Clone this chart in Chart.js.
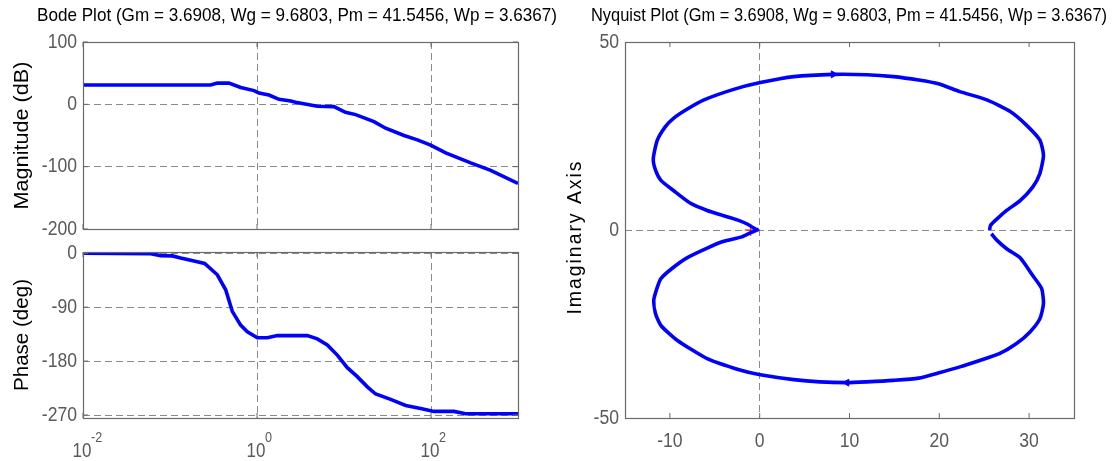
<!DOCTYPE html>
<html><head><meta charset="utf-8">
<script src="https://cdn.jsdelivr.net/npm/chart.js@4.4.1/dist/chart.umd.min.js"></script>
<style>
html,body{margin:0;padding:0;background:#fff;}
#wrap{position:relative;width:1112px;height:461px;overflow:hidden;background:#fff;}
canvas{position:absolute;}
</style></head><body>
<div id="wrap">
<canvas id="mag" width="560" height="240" style="left:0;top:0"></canvas>
<canvas id="phase" width="560" height="221" style="left:0;top:240px"></canvas>
<canvas id="nyq" width="552" height="461" style="left:560px;top:0"></canvas>
</div>
<script>
// ---------------- data ----------------
const bodeTitle = 'Bode Plot (Gm = 3.6908, Wg = 9.6803, Pm = 41.5456, Wp = 3.6367)';
const nyqTitle = 'Nyquist Plot (Gm = 3.6908, Wg = 9.6803, Pm = 41.5456, Wp = 3.6367)';
const magLabel = 'Magnitude (dB)';
const phaseLabel = 'Phase (deg)';
const nyqYLabel = 'Imaginary Axis';

// Bode magnitude (frequency in rad/s, magnitude in dB)
const magFreq = [0.01, 0.293, 0.35, 0.476, 0.649, 0.925, 1.054, 1.374, 1.79, 2.44, 2.78, 4.93, 7.67, 10.4, 13.6, 22.1, 30.1, 49.0, 69.7, 99.1, 147.6, 285.8, 485.3, 1000];
const magDb = [30.9, 30.9, 34, 34, 27, 22, 18, 15, 8, 5.3, 3.2, -3.2, -3.7, -12.8, -16.5, -27.7, -38.3, -50, -57, -65.4, -78, -94, -106, -127];

// Bode phase (frequency in rad/s, phase in deg)
const phaseFreq = [0.01, 0.06, 0.0782, 0.1064, 0.1327, 0.1888, 0.25, 0.35, 0.4365, 0.52, 0.6486, 0.7745, 1.009, 1.315, 1.714, 3.793, 4.932, 6.427, 8.375, 10.91, 14.22, 18.54, 23.12, 34.36, 51.17, 76.03, 108.1, 183.7, 250, 1000];
const phaseDeg = [0, -1, -4, -4.5, -8, -13, -17, -36, -61, -97, -120, -131, -141, -141, -137.5, -137.5, -143, -153, -170, -191, -206, -223, -235, -244, -254, -259, -264, -264, -268, -268];

// Nyquist branches
const nyqUpRe = [-0.3, -1.4, -2.5, -4.0, -5.85, -7.7, -9.6, -11.0, -11.6, -11.85, -11.4, -10.5, -9.6, -8.1, -6.2, -2.9, 0.07, 3.8, 8.2, 11.9, 14.9, 17.7, 19.9, 22.3, 25.3, 27.9, 29.7, 31.2, 31.6, 31.2, 30.4, 29.0, 27.5, 26.4, 25.7, 25.6];
const nyqUpIm = [0, 1.6, 2.7, 3.8, 5.2, 7.1, 10.5, 13.2, 15.9, 19.0, 23.9, 27.5, 29.7, 32.1, 34.6, 37.4, 39.2, 40.8, 41.4, 41.3, 40.8, 39.9, 38.9, 36.8, 34.6, 31.5, 27.9, 23.9, 19.9, 15.0, 11.4, 7.8, 5.2, 2.9, 1.2, 0];
const nyqLoRe = [25.8, 26.4, 27.5, 29.0, 30.4, 31.4, 31.6, 31.2, 30.1, 28.6, 26.7, 24.5, 22.3, 20.1, 17.7, 14.9, 11.9, 9.7, 6.7, 3.8, 0.07, -2.1, -5.85, -9.2, -11.0, -11.6, -11.8, -11.4, -11.0, -9.7, -8.1, -5.85, -4.0, -2.1, -1.0, -0.1];
const nyqLoIm = [-1.0, -2.7, -5.0, -7.4, -12.1, -15.6, -19.6, -23.6, -27.1, -30.2, -32.9, -34.7, -36.4, -37.9, -39.4, -40.0, -40.4, -40.6, -40.4, -39.8, -38.5, -37.3, -34.2, -29.3, -25.4, -22.3, -18.7, -15.2, -12.9, -10.1, -7.4, -4.8, -3.0, -1.9, -0.7, 0.2];
const arrowRe = [8.2, 9.7];
const arrowIm = [41.4, -40.6];
const arrowDir = [90, -90];
const critRe = [-1];
const critIm = [0];

// ticks
const freqTicks = [0.01, 1, 100];
const freqTickBase = ['10', '10', '10'];
const freqTickExp = ['-2', '0', '2'];
const magTicks = [100, 0, -100, -200];
const phaseTicks = [0, -90, -180, -270];
const nyqXTicks = [-10, 0, 10, 20, 30];
const nyqYTicks = [50, 0, -50];

// ---------------- helpers ----------------
const FONT = '"Liberation Sans", Arial, Helvetica, sans-serif';
const TICKC = '#5a5a5a', FRAMEC = '#6a6a6a', GRIDC = '#8a8a8a';
const LW = 3.6;
function txt(ctx, s, x, y, o) {
  ctx.save();
  ctx.font = (o.size || 20) + 'px ' + FONT;
  ctx.fillStyle = o.color || '#000';
  ctx.textBaseline = o.baseline || 'alphabetic';
  ctx.textAlign = o.align || 'left';
  if (o.ls) ctx.letterSpacing = o.ls + 'px';
  ctx.translate(x, y);
  if (o.rot) ctx.rotate(o.rot);
  let sx = o.sx || 1;
  if (o.width) sx = o.width / ctx.measureText(s).width;
  ctx.scale(sx, 1);
  ctx.fillText(s, 0, 0);
  ctx.restore();
}
function frame(ctx, a) {
  ctx.save();
  ctx.setLineDash([]);
  ctx.strokeStyle = FRAMEC;
  ctx.lineWidth = 1.2;
  ctx.strokeRect(Math.round(a.left) + 0.5, Math.round(a.top) + 0.5, Math.round(a.right - a.left), Math.round(a.bottom - a.top));
  ctx.restore();
}
function innerTicks(ctx, a, xs, ys, len) {
  ctx.save();
  ctx.setLineDash([]);
  ctx.strokeStyle = FRAMEC;
  ctx.lineWidth = 1;
  ctx.beginPath();
  xs.forEach(px => { ctx.moveTo(px, a.top); ctx.lineTo(px, a.top + len); ctx.moveTo(px, a.bottom); ctx.lineTo(px, a.bottom - len); });
  ys.forEach(py => { ctx.moveTo(a.left, py); ctx.lineTo(a.left + len, py); ctx.moveTo(a.right, py); ctx.lineTo(a.right - len, py); });
  ctx.stroke();
  ctx.restore();
}
const setTicks = arr => s => { s.ticks = arr.map(v => ({ value: v })); };
const common = {
  animation: false, responsive: false, devicePixelRatio: 1, events: [],
  plugins: { legend: { display: false }, tooltip: { enabled: false }, title: { display: false } }
};
function axis(extra) {
  return Object.assign({
    ticks: { display: false },
    grid: { color: GRIDC, lineWidth: 1, drawTicks: false },
    border: { display: false, dash: [7, 4] }
  }, extra);
}
const xy = (xs, ys) => xs.map((v, i) => ({ x: v, y: ys[i] }));

// ---------------- Bode magnitude ----------------
new Chart(document.getElementById('mag'), {
  type: 'line',
  data: { datasets: [{ data: xy(magFreq, magDb), borderColor: '#0000ff', borderWidth: LW, pointRadius: 0, tension: 0 }] },
  options: Object.assign({}, common, {
    layout: { padding: { top: 42, bottom: 11, right: 42, left: 0 }, autoPadding: false },
    scales: {
      x: axis({ type: 'logarithmic', min: 0.01, max: 1000, afterBuildTicks: setTicks(freqTicks), afterFit: s => { s.height = 0; } }),
      y: axis({ type: 'linear', min: -200, max: 100, afterBuildTicks: setTicks(magTicks), afterFit: s => { s.width = 83; } })
    }
  }),
  plugins: [{
    id: 'deco', afterDraw(c) {
      const ctx = c.ctx, a = c.chartArea, sx = c.scales.x, sy = c.scales.y;
      frame(ctx, a);
      innerTicks(ctx, a, freqTicks.map(v => sx.getPixelForValue(v)), magTicks.map(v => sy.getPixelForValue(v)), 5);
      magTicks.forEach(v => txt(ctx, String(v), a.left - 6, sy.getPixelForValue(v), { size: 20, color: TICKC, align: 'right', baseline: 'middle', sx: 0.88 }));
      txt(ctx, bodeTitle, 297, 21, { size: 19, align: 'center', width: 520 });
      txt(ctx, magLabel, 28, (a.top + a.bottom) / 2, { size: 20, align: 'center', rot: -Math.PI / 2, width: 148 });
    }
  }]
});

// ---------------- Bode phase ----------------
new Chart(document.getElementById('phase'), {
  type: 'line',
  data: { datasets: [{ data: xy(phaseFreq, phaseDeg), borderColor: '#0000ff', borderWidth: LW, pointRadius: 0, tension: 0 }] },
  options: Object.assign({}, common, {
    layout: { padding: { top: 12, bottom: 43, right: 42, left: 0 }, autoPadding: false },
    scales: {
      x: axis({ type: 'logarithmic', min: 0.01, max: 1000, afterBuildTicks: setTicks(freqTicks), afterFit: s => { s.height = 0; } }),
      y: axis({ type: 'linear', min: -275, max: 2, afterBuildTicks: setTicks(phaseTicks), afterFit: s => { s.width = 83; } })
    }
  }),
  plugins: [{
    id: 'deco', afterDraw(c) {
      const ctx = c.ctx, a = c.chartArea, sx = c.scales.x, sy = c.scales.y;
      frame(ctx, a);
      innerTicks(ctx, a, freqTicks.map(v => sx.getPixelForValue(v)), phaseTicks.map(v => sy.getPixelForValue(v)), 5);
      phaseTicks.forEach(v => txt(ctx, String(v), a.left - 6, sy.getPixelForValue(v), { size: 20, color: TICKC, align: 'right', baseline: 'middle', sx: 0.88 }));
      freqTicks.forEach((v, i) => {
        const px = sx.getPixelForValue(v);
        txt(ctx, freqTickBase[i], px - 1, 217, { size: 20, color: TICKC, align: 'center', sx: 0.85 });
        txt(ctx, freqTickExp[i], px + 8, 202, { size: 14, color: TICKC, align: 'left', sx: 0.9 });
      });
      txt(ctx, phaseLabel, 28, (a.top + a.bottom) / 2, { size: 20, align: 'center', rot: -Math.PI / 2, width: 112 });
    }
  }]
});

// ---------------- Nyquist ----------------
new Chart(document.getElementById('nyq'), {
  type: 'scatter',
  data: {
    datasets: [
      { data: xy(nyqUpRe, nyqUpIm), showLine: true, borderColor: '#0000ff', borderWidth: LW, pointRadius: 0, tension: 0.2 },
      { data: xy(nyqLoRe, nyqLoIm), showLine: true, borderColor: '#0000ff', borderWidth: LW, pointRadius: 0, tension: 0.2 },
      { data: xy(arrowRe, arrowIm), showLine: false, pointStyle: 'triangle', rotation: arrowDir, pointRadius: 4, backgroundColor: '#0000ff', borderColor: '#0000ff', borderWidth: 1 },
      { data: xy(critRe, critIm), showLine: false, pointStyle: 'cross', pointRadius: 6, borderColor: '#ff0000', borderWidth: 1 }
    ]
  },
  options: Object.assign({}, common, {
    layout: { padding: { top: 42, bottom: 43, right: 38, left: 0 }, autoPadding: false },
    scales: {
      x: axis({ type: 'linear', min: -15, max: 35, afterBuildTicks: setTicks(nyqXTicks), afterFit: s => { s.height = 0; },
        grid: { drawTicks: false, lineWidth: 1, color: c => (c.tick && c.tick.value === 0) ? GRIDC : 'rgba(0,0,0,0)' } }),
      y: axis({ type: 'linear', min: -50, max: 50, afterBuildTicks: setTicks(nyqYTicks), afterFit: s => { s.width = 65; },
        grid: { drawTicks: false, lineWidth: 1, color: c => (c.tick && c.tick.value === 0) ? GRIDC : 'rgba(0,0,0,0)' } })
    }
  }),
  plugins: [{
    id: 'deco', afterDraw(c) {
      const ctx = c.ctx, a = c.chartArea, sx = c.scales.x, sy = c.scales.y;
      frame(ctx, a);
      innerTicks(ctx, a, nyqXTicks.map(v => sx.getPixelForValue(v)), [], 5);
      nyqYTicks.forEach(v => txt(ctx, String(v), a.left - 6, sy.getPixelForValue(v), { size: 20, color: TICKC, align: 'right', baseline: 'middle', sx: 0.88 }));
      nyqXTicks.forEach(v => txt(ctx, String(v), sx.getPixelForValue(v), 447, { size: 20, color: TICKC, align: 'center', sx: 0.88 }));
      txt(ctx, nyqTitle, 289, 21, { size: 19, align: 'center', width: 516 });
      txt(ctx, nyqYLabel, 21, (a.top + a.bottom) / 2 + 7, { size: 20, align: 'center', rot: -Math.PI / 2, ls: 2, width: 155 });
    }
  }]
});
</script>
</body></html>
